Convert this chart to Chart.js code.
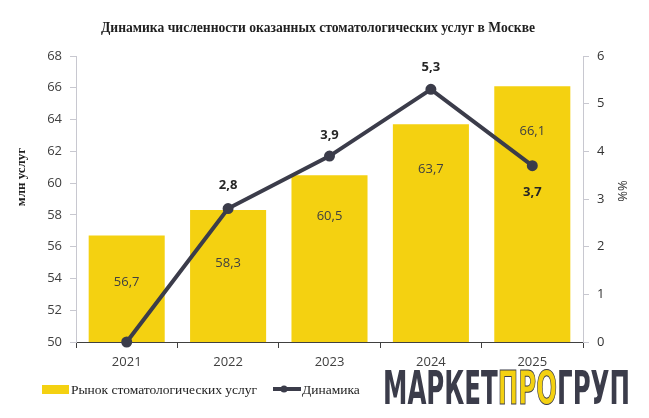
<!DOCTYPE html>
<html>
<head>
<meta charset="utf-8">
<script src="https://cdn.jsdelivr.net/npm/chart.js@4/dist/chart.umd.min.js"></script>
<style>
  html, body { margin: 0; padding: 0; background: #fff; }
  #wrap { width: 649px; height: 418px; position: relative; }
</style>
</head>
<body>
<div id="wrap"><canvas id="myChart"></canvas></div>
<script>
const years = ['2021', '2022', '2023', '2024', '2025'];
const marketValues = [56.7, 58.3, 60.5, 63.7, 66.1];
const growthValues = [0, 2.8, 3.9, 5.3, 3.7];
const leftTicks = [50, 52, 54, 56, 58, 60, 62, 64, 66, 68];
const rightTicks = [0, 1, 2, 3, 4, 5, 6];

const YELLOW = '#f4d111';
const DARK = '#3b3c4a';
const TICK_FONT = { family: '"Open Sans", sans-serif', size: 13 };

// label placement tweaks (px), as in the source picture
const barLabelDrop = [47, 53, 41, 45, 45];
const lineLabelShift = [null, -23, -21, -22, 27];

function fmt(v) {
  return v.toFixed(1).replace('.', ',');
}

const labelsPlugin = {
  id: 'labels',
  afterDatasetsDraw(chart) {
    const ctx = chart.ctx;
    ctx.save();
    ctx.textAlign = 'center';
    ctx.textBaseline = 'middle';

    const bars = chart.getDatasetMeta(0).data;
    ctx.font = '13px "Open Sans", sans-serif';
    ctx.fillStyle = '#404040';
    bars.forEach((bar, i) => {
      ctx.fillText(fmt(marketValues[i]), bar.x, bar.y + barLabelDrop[i]);
    });

    const points = chart.getDatasetMeta(1).data;
    ctx.font = 'bold 13px "Open Sans", sans-serif';
    ctx.fillStyle = '#262626';
    points.forEach((pt, i) => {
      if (lineLabelShift[i] === null) return;
      ctx.fillText(fmt(growthValues[i]), pt.x, pt.y + lineLabelShift[i]);
    });
    ctx.restore();
  },
  afterDraw(chart) {
    const ctx = chart.ctx;
    ctx.save();

    // title
    ctx.fillStyle = '#1f1f1f';
    ctx.textAlign = 'center';
    ctx.textBaseline = 'middle';
    ctx.font = 'bold 13.6px "Liberation Serif", serif';
    ctx.fillText('Динамика численности оказанных стоматологических услуг в Москве', 318, 28);

    // axis titles
    ctx.save();
    ctx.translate(22, 177);
    ctx.rotate(-Math.PI / 2);
    ctx.font = 'bold 13px "Liberation Serif", serif';
    ctx.fillText('млн услуг', 0, 0);
    ctx.restore();

    ctx.save();
    ctx.translate(623, 191);
    ctx.rotate(-Math.PI / 2);
    ctx.font = '13px "Open Sans", sans-serif';
    ctx.fillStyle = '#333';
    ctx.fillText('%%', 0, 0);
    ctx.restore();

    // legend
    ctx.textAlign = 'left';
    ctx.fillStyle = YELLOW;
    ctx.fillRect(42, 385, 27, 9);
    ctx.fillStyle = '#222';
    ctx.font = '13.5px "Liberation Serif", serif';
    ctx.fillText('Рынок стоматологических услуг', 71, 390);

    ctx.strokeStyle = DARK;
    ctx.lineWidth = 4;
    ctx.beginPath();
    ctx.moveTo(273, 389);
    ctx.lineTo(301, 389);
    ctx.stroke();
    ctx.fillStyle = DARK;
    ctx.beginPath();
    ctx.arc(284, 389, 3.5, 0, Math.PI * 2);
    ctx.fill();
    ctx.fillStyle = '#222';
    ctx.fillText('Динамика', 302, 390);

    // logo
    const parts = [['МАРКЕТ', DARK, null], ['ПРО', YELLOW, DARK], ['ГРУП', DARK, null]];
    ctx.font = 'bold 46px "DejaVu Sans Condensed", "DejaVu Sans", sans-serif';
    const full = parts.map(p => p[0]).join('');
    const sx = 247 / ctx.measureText(full).width;
    ctx.translate(383, 392);
    ctx.scale(sx, 1);
    ctx.textBaseline = 'middle';
    let x = 0;
    parts.forEach(([txt, fill, stroke]) => {
      ctx.fillStyle = fill;
      ctx.fillText(txt, x, 0);
      if (stroke) {
        ctx.lineWidth = 1;
        ctx.strokeStyle = stroke;
        ctx.strokeText(txt, x, 0);
      }
      x += ctx.measureText(txt).width;
    });
    ctx.restore();
  },
};

const data = {
  labels: years,
  datasets: [
    {
      type: 'bar',
      label: 'Рынок стоматологических услуг',
      data: marketValues,
      backgroundColor: YELLOW,
      yAxisID: 'y',
      barPercentage: 0.75,
      categoryPercentage: 1,
      order: 2,
    },
    {
      type: 'line',
      label: 'Динамика',
      data: growthValues,
      borderColor: DARK,
      backgroundColor: DARK,
      borderWidth: 4,
      pointRadius: 3.5,
      pointHoverRadius: 3.5,
      tension: 0,
      clip: false,
      yAxisID: 'y1',
      order: 1,
    },
  ],
};

const config = {
  type: 'bar',
  data: data,
  options: {
    responsive: true,
    maintainAspectRatio: false,
    animation: false,
    layout: { padding: { top: 56, left: 0, right: 0, bottom: 46 } },
    plugins: {
      legend: { display: false },
      title: { display: false },
      tooltip: { enabled: false },
    },
    scales: {
      x: {
        afterFit: (axis) => { axis.height = 30; },
        border: { color: '#404040', width: 1 },
        grid: { drawOnChartArea: false, offset: true, tickLength: 6, color: '#404040' },
        ticks: { font: TICK_FONT, color: '#404040', padding: 6 },
      },
      y: {
        position: 'left',
        min: 50,
        max: 68,
        afterFit: (axis) => { axis.width = 76; },
        afterBuildTicks: (axis) => { axis.ticks = leftTicks.map(v => ({ value: v })); },
        border: { color: '#c8c8d0', width: 1 },
        grid: { drawOnChartArea: false, tickLength: 6, color: '#c8c8d0' },
        ticks: { font: TICK_FONT, color: '#404040', padding: 8 },
      },
      y1: {
        position: 'right',
        min: 0,
        max: 6,
        afterFit: (axis) => { axis.width = 66; },
        afterBuildTicks: (axis) => { axis.ticks = rightTicks.map(v => ({ value: v })); },
        border: { color: '#c8c8d0', width: 1 },
        grid: { drawOnChartArea: false, tickLength: 6, color: '#c8c8d0' },
        ticks: { font: TICK_FONT, color: '#333', padding: 8 },
      },
    },
  },
  plugins: [labelsPlugin],
};

const myChart = new Chart(document.getElementById('myChart'), config);
</script>
</body>
</html>
